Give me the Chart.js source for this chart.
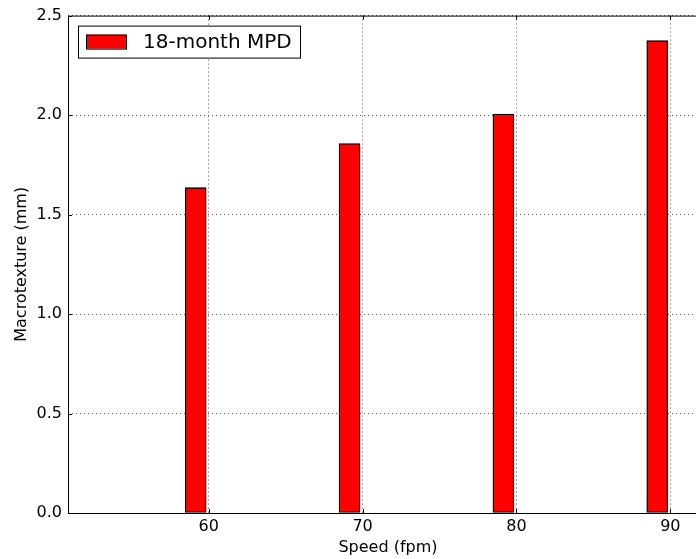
<!DOCTYPE html>
<html>
<head>
<meta charset="utf-8">
<script src="https://cdn.jsdelivr.net/npm/chart.js@4"></script>
<style>
  html, body { margin: 0; padding: 0; background: #fff; overflow: hidden; }
  #wrap { width: 696px; height: 559px; overflow: hidden; }
</style>
</head>
<body>
<div id="wrap"><canvas id="chart" width="712" height="559"></canvas></div>
<script>
// speeds (fpm) and 18-month mean profile depth (mm)
const speeds = [60, 70, 80, 90];
const mpd18 = [1.635, 1.857, 2.005, 2.374];
const yTicks = [0, 0.5, 1.0, 1.5, 2.0, 2.5];

const barShift = -0.85; // bars sit just left of the tick
const font = 'DejaVu Sans';

// frame, inside ticks and legend box, matplotlib classic look
const framePlugin = {
  id: 'frame',
  afterDraw(chart) {
    const c = chart.ctx, a = chart.chartArea;
    const xs = chart.scales.x, ys = chart.scales.y;
    c.save();
    c.strokeStyle = '#000';
    c.lineWidth = 1;
    c.strokeRect(a.left + 0.5, a.top + 0.5, a.right - a.left, a.bottom - a.top);
    c.beginPath();
    speeds.forEach(v => {
      const px = Math.round(xs.getPixelForValue(v)) + 0.5;
      c.moveTo(px, a.bottom); c.lineTo(px, a.bottom - 4);
      c.moveTo(px, a.top); c.lineTo(px, a.top + 4);
    });
    yTicks.forEach(v => {
      const py = Math.round(ys.getPixelForValue(v)) + 0.5;
      c.moveTo(a.left, py); c.lineTo(a.left + 4, py);
      c.moveTo(a.right, py); c.lineTo(a.right - 4, py);
    });
    c.stroke();

    // legend
    const lx = a.left + 10, ly = a.top + 10;
    c.fillStyle = '#fff';
    c.fillRect(lx, ly, 222, 32);
    c.strokeStyle = '#000';
    c.strokeRect(lx + 0.5, ly + 0.5, 222, 32);
    c.fillStyle = '#ff0000';
    c.fillRect(lx + 8, ly + 9, 40, 14);
    c.strokeRect(lx + 8.5, ly + 9.5, 40, 14);
    c.fillStyle = '#000';
    c.font = '20px "' + font + '"';
    c.textBaseline = 'middle';
    c.fillText(chart.data.datasets[0].label, lx + 65, ly + 17);
    c.restore();
  }
};

const ctx = document.getElementById('chart');
new Chart(ctx, {
  type: 'bar',
  data: {
    datasets: [{
      label: '18-month MPD',
      data: speeds.map((s, i) => ({ x: s + barShift, y: mpd18[i] })),
      backgroundColor: '#ff0000',
      borderColor: '#000',
      borderWidth: 1.3,
      borderSkipped: false,
      barThickness: 21
    }]
  },
  options: {
    responsive: false,
    animation: false,
    layout: { padding: { top: 15, right: 4, left: 0, bottom: 0 } },
    plugins: { legend: { display: false }, tooltip: { enabled: false } },
    scales: {
      x: {
        type: 'linear',
        offset: false,
        min: 50.85,
        max: 92.45,
        afterBuildTicks: s => { s.ticks = speeds.map(v => ({ value: v })); },
        afterFit: s => { s.height = 46; },
        grid: { offset: false, color: '#555', lineWidth: 1, drawTicks: false },
        border: { display: false, dash: [1, 3] },
        ticks: { color: '#000', padding: 4, font: { family: font, size: 16 } },
        title: { display: true, text: 'Speed (fpm)', color: '#000', padding: 2, font: { family: font, size: 16 } }
      },
      y: {
        min: 0,
        max: 2.5,
        afterBuildTicks: s => { s.ticks = yTicks.map(v => ({ value: v })); },
        afterFit: s => { s.width = 68; },
        grid: { color: '#555', lineWidth: 1, drawTicks: false },
        border: { display: false, dash: [1, 3] },
        ticks: { color: '#000', padding: 6, font: { family: font, size: 16 }, callback: v => v.toFixed(1) },
        title: { display: true, text: 'Macrotexture (mm)', color: '#000', padding: 12, font: { family: font, size: 16 } }
      }
    }
  },
  plugins: [framePlugin]
});
</script>
</body>
</html>
